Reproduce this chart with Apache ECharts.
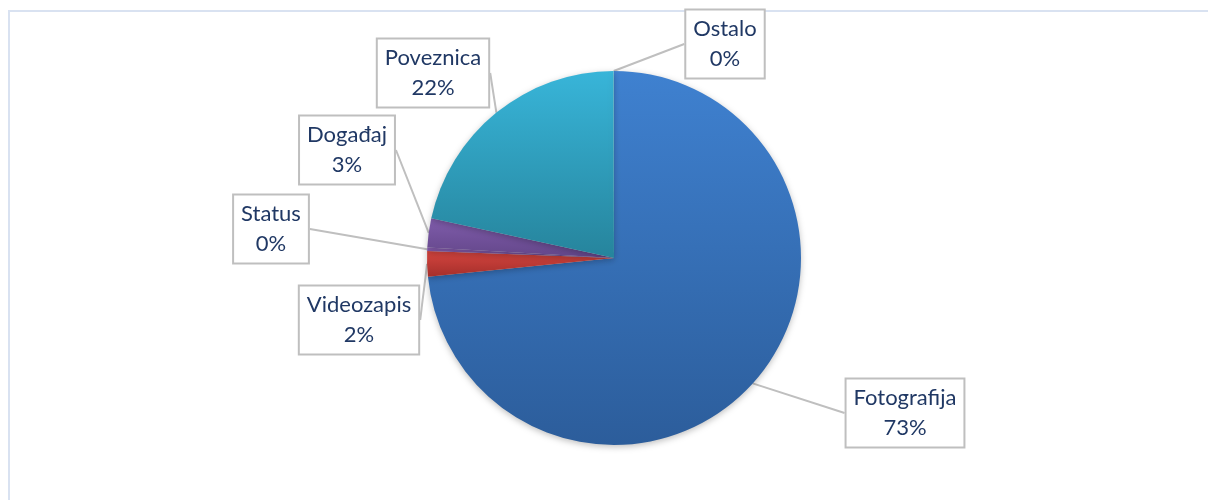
<!DOCTYPE html>
<html>
<head>
<meta charset="utf-8">
<script src="https://cdn.jsdelivr.net/npm/echarts@6/dist/echarts.min.js"></script>
<style>
  html, body { margin: 0; padding: 0; background: #fff; }
  #main { width: 1208px; height: 500px; }
</style>
</head>
<body>
<div id="main"></div>
<script>
// vrste objava i udio (%)
var categories = ['Fotografija', 'Videozapis', 'Status', 'Događaj', 'Poveznica', 'Ostalo'];
var shares = [73.4, 2.2, 0.3, 2.5, 21.55, 0.05];

// boje kriški: [gore, dolje]
var sliceColors = [
    ['#3f81d0', '#2c5d9b'],
    ['#d5453f', '#a52f2b'],
    ['#8a5fb4', '#644788'],
    ['#7f5cab', '#634689'],
    ['#38b5d9', '#26849c'],
    ['#4bacc6', '#2f8aa3']
];

// središta okvira oznaka
var labelPos = [
    [905, 413],
    [359, 320],
    [271, 229],
    [347, 150],
    [433, 73],
    [725, 44]
];

var myChart = echarts.init(document.getElementById('main'));

var data = categories.map(function (name, i) {
    return {
        name: name,
        value: shares[i],
        itemStyle: {
            color: new echarts.graphic.LinearGradient(0, 0, 0, 1, [
                {offset: 0, color: sliceColors[i][0]},
                {offset: 1, color: sliceColors[i][1]}
            ])
        }
    };
});

myChart.setOption({
    animation: false,
    graphic: [
        {
            type: 'rect',
            shape: {x: 9, y: 11, width: 1400, height: 700},
            style: {fill: 'none', stroke: '#d9e2f1', lineWidth: 2},
            silent: true
        }
    ],
    series: [
        {
            type: 'pie',
            center: [614, 258],
            radius: 187,
            startAngle: 90,
            clockwise: true,
            percentPrecision: 0,
            avoidLabelOverlap: false,
            data: data,
            itemStyle: {
                shadowBlur: 6,
                shadowOffsetY: 2,
                shadowColor: 'rgba(0,0,0,0.25)'
            },
            label: {
                show: true,
                position: 'outside',
                formatter: '{b}\n{d}%',
                fontFamily: 'Lato',
                fontSize: 22,
                lineHeight: 30,
                color: '#203864',
                align: 'center',
                backgroundColor: '#fff',
                borderColor: '#bfbfbf',
                borderWidth: 2,
                padding: [4, 7, 3, 7]
            },
            labelLine: {
                show: true,
                length: 10,
                length2: 0,
                lineStyle: {color: '#bfbfbf', width: 2}
            },
            labelLayout: function (params) {
                var p = labelPos[params.dataIndex];
                return {
                    x: p[0],
                    y: p[1],
                    align: 'center',
                    verticalAlign: 'middle'
                };
            },
            emphasis: {disabled: true}
        }
    ]
});
</script>
</body>
</html>
